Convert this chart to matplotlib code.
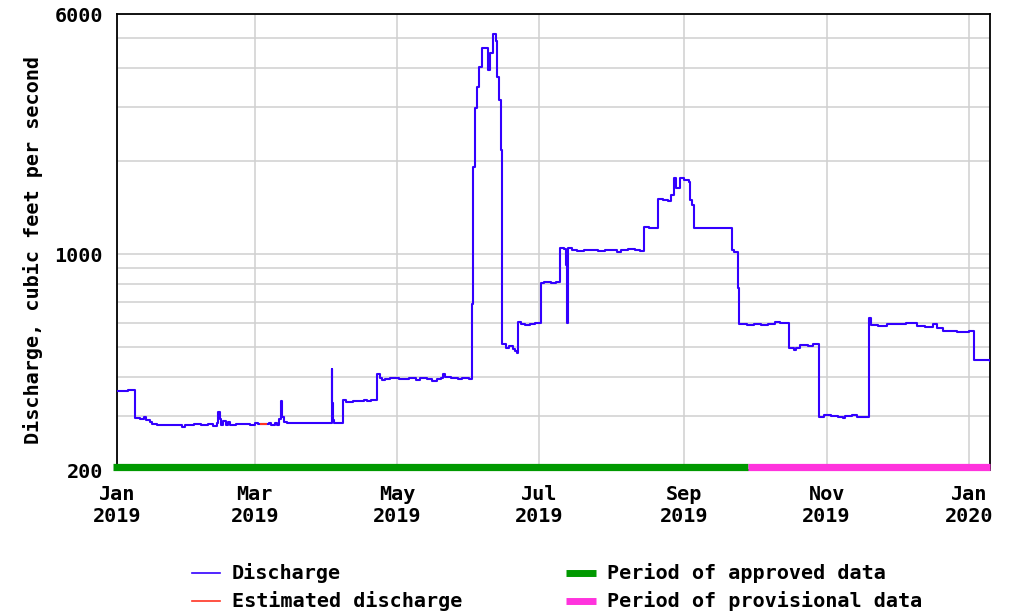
import matplotlib
matplotlib.use("Agg")
from matplotlib import pyplot as plt
from matplotlib.lines import Line2D
from matplotlib.ticker import FixedLocator, NullFormatter
import pandas as pd

plt.rcParams["font.family"] = "DejaVu Sans Mono"
plt.rcParams["font.weight"] = "bold"
plt.rcParams["font.size"] = 14.5

dates = [
    "2019-01-01 00:00", "2019-01-05 12:00", "2019-01-08 17:00", "2019-01-11 00:00",
    "2019-01-12 12:00", "2019-01-13 12:00", "2019-01-15 00:00", "2019-01-16 00:00",
    "2019-01-18 00:00", "2019-01-22 00:00", "2019-01-26 00:00", "2019-01-29 00:00",
    "2019-01-30 00:00", "2019-02-03 00:00", "2019-02-06 00:00", "2019-02-09 00:00",
    "2019-02-11 00:00", "2019-02-13 00:00", "2019-02-13 10:00", "2019-02-14 00:00",
    "2019-02-14 12:00", "2019-02-15 12:00", "2019-02-16 12:00", "2019-02-17 12:00",
    "2019-02-18 12:00", "2019-02-21 00:00", "2019-02-27 00:00", "2019-03-01 00:00",
    "2019-03-02 12:00", "2019-03-07 00:00", "2019-03-08 00:00", "2019-03-09 12:00",
    "2019-03-10 12:00", "2019-03-11 12:00", "2019-03-12 07:00", "2019-03-12 18:00",
    "2019-03-13 12:00", "2019-03-15 00:00", "2019-03-20 00:00", "2019-03-25 00:00",
    "2019-03-31 00:00", "2019-04-02 22:00", "2019-04-03 06:00", "2019-04-03 18:00",
    "2019-04-04 00:00", "2019-04-07 17:00", "2019-04-09 00:00", "2019-04-12 00:00",
    "2019-04-15 00:00", "2019-04-17 00:00", "2019-04-18 00:00", "2019-04-20 00:00",
    "2019-04-22 14:00", "2019-04-23 12:00", "2019-04-24 12:00", "2019-04-26 00:00",
    "2019-04-28 00:00", "2019-05-02 00:00", "2019-05-06 00:00", "2019-05-09 00:00",
    "2019-05-11 00:00", "2019-05-14 00:00", "2019-05-16 00:00", "2019-05-18 00:00",
    "2019-05-20 00:00", "2019-05-20 18:00", "2019-05-21 12:00", "2019-05-24 00:00",
    "2019-05-27 00:00", "2019-05-29 00:00", "2019-06-01 00:00", "2019-06-02 07:00",
    "2019-06-02 17:00", "2019-06-03 10:00", "2019-06-04 10:00", "2019-06-05 07:00",
    "2019-06-06 07:00", "2019-06-09 02:00", "2019-06-09 22:00", "2019-06-11 07:00",
    "2019-06-12 10:00", "2019-06-13 00:00", "2019-06-13 19:00", "2019-06-14 10:00",
    "2019-06-15 02:00", "2019-06-16 12:00", "2019-06-18 00:00", "2019-06-19 12:00",
    "2019-06-20 12:00", "2019-06-21 07:00", "2019-06-22 00:00", "2019-06-23 00:00",
    "2019-06-25 00:00", "2019-06-27 00:00", "2019-06-29 00:00", "2019-07-01 17:00",
    "2019-07-03 00:00", "2019-07-06 00:00", "2019-07-08 00:00", "2019-07-09 22:00",
    "2019-07-11 12:00", "2019-07-12 10:00", "2019-07-12 20:00", "2019-07-13 02:00",
    "2019-07-15 00:00", "2019-07-17 00:00", "2019-07-20 00:00", "2019-07-23 00:00",
    "2019-07-26 00:00", "2019-07-29 00:00", "2019-08-01 00:00", "2019-08-03 00:00",
    "2019-08-05 00:00", "2019-08-08 00:00", "2019-08-11 00:00", "2019-08-13 00:00",
    "2019-08-14 22:00", "2019-08-17 00:00", "2019-08-20 14:00", "2019-08-23 00:00",
    "2019-08-25 00:00", "2019-08-26 07:00", "2019-08-27 10:00", "2019-08-28 10:00",
    "2019-08-30 07:00", "2019-09-01 00:00", "2019-09-02 22:00", "2019-09-03 07:00",
    "2019-09-04 07:00", "2019-09-05 00:00", "2019-09-10 00:00", "2019-09-16 00:00",
    "2019-09-18 00:00", "2019-09-21 10:00", "2019-09-22 12:00", "2019-09-24 00:00",
    "2019-09-24 14:00", "2019-09-28 00:00", "2019-10-01 00:00", "2019-10-04 00:00",
    "2019-10-07 00:00", "2019-10-10 00:00", "2019-10-12 00:00", "2019-10-16 02:00",
    "2019-10-18 00:00", "2019-10-19 00:00", "2019-10-20 17:00", "2019-10-24 00:00",
    "2019-10-26 00:00", "2019-10-28 19:00", "2019-10-31 00:00", "2019-11-03 00:00",
    "2019-11-06 00:00", "2019-11-08 00:00", "2019-11-09 00:00", "2019-11-12 00:00",
    "2019-11-14 00:00", "2019-11-19 00:00", "2019-11-20 00:00", "2019-11-23 00:00",
    "2019-11-26 22:00", "2019-11-30 00:00", "2019-12-05 00:00", "2019-12-09 17:00",
    "2019-12-13 00:00", "2019-12-16 19:00", "2019-12-18 07:00", "2019-12-21 02:00",
    "2019-12-27 00:00", "2020-01-01 00:00", "2020-01-03 07:00", "2020-01-09 19:00",
]
discharge = [
    360, 364, 295, 292,
    296, 290, 286, 282,
    280, 279, 279, 276,
    279, 281, 280, 282,
    278, 285, 308, 292,
    279, 288, 280, 286,
    280, 281, 280, 283,
    281, 283, 279, 285,
    280, 292, 334, 298,
    287, 284, 284, 285,
    285, 424, 330, 290,
    285, 336, 333, 335,
    334, 338, 334, 336,
    410, 398, 390, 393,
    396, 395, 396, 392,
    397, 393, 389, 395,
    398, 410, 399, 396,
    393, 397, 393, 690,
    1920, 2970, 3490, 4050,
    4640, 3950, 4470, 5150,
    4900, 3760, 3160, 2180,
    510, 498, 503, 494,
    486, 478, 604, 593,
    588, 593, 600, 805,
    812, 808, 812, 1045,
    1040, 920, 597, 1050,
    1035, 1025, 1030, 1033,
    1027, 1032, 1030, 1020,
    1030, 1036, 1030, 1022,
    1222, 1218, 1510, 1500,
    1490, 1560, 1760, 1635,
    1765, 1745, 1720, 1500,
    1440, 1218, 1215, 1212,
    1218, 1030, 1020, 775,
    594, 590, 593, 590,
    596, 602, 597, 496,
    490, 498, 508, 505,
    510, 298, 302, 300,
    298, 295, 299, 302,
    297, 620, 590, 586,
    595, 593, 597, 585,
    580, 594, 575, 562,
    560, 563, 454, 452,
]

est_dates = ["2019-03-03 17:00", "2019-03-05 17:00"]
est_discharge = [281, 281]

approved_period = ["2018-12-30 08:00", "2019-09-28 12:00"]
provisional_period = ["2019-09-28 12:00", "2020-01-09 19:00"]

month_ticks = ["2019-01-01", "2019-03-01", "2019-05-01", "2019-07-01",
               "2019-09-01", "2019-11-01", "2020-01-01"]
month_labels = ["Jan\n2019", "Mar\n2019", "May\n2019", "Jul\n2019",
                "Sep\n2019", "Nov\n2019", "Jan\n2020"]

blue = "#3300ff"
red = "#ff3322"
green = "#009900"
pink = "#ff33dd"
grid_col = "#d0d0d0"

fig = plt.figure(figsize=(10.15, 6.14), dpi=100)
ax = fig.add_axes([117 / 1015, 1 - 470 / 614, (989.5 - 117) / 1015, 456 / 614])

x = pd.to_datetime(dates)
ax.plot(x, discharge, color=blue, lw=1.5, drawstyle="steps-post", zorder=3)
ax.plot(pd.to_datetime(est_dates), est_discharge, color=red, lw=1.5, zorder=4)

# approval status bars along the bottom
trans = ax.get_xaxis_transform()
ax.plot(pd.to_datetime(approved_period), [0.0065, 0.0065], color=green, lw=5.2,
        solid_capstyle="butt", transform=trans, clip_on=False, zorder=5)
ax.plot(pd.to_datetime(provisional_period), [0.0065, 0.0065], color=pink, lw=5.2,
        solid_capstyle="butt", transform=trans, clip_on=False, zorder=5)

ax.set_yscale("log")
ax.set_ylim(200, 6000)
ax.set_yticks([200, 1000, 6000])
ax.set_yticklabels(["200", "1000", "6000"])
ax.yaxis.set_minor_locator(FixedLocator([300, 400, 500, 600, 700, 800, 900,
                                         2000, 3000, 4000, 5000]))
ax.yaxis.set_minor_formatter(NullFormatter())

ax.set_xlim(pd.Timestamp("2019-01-01"), pd.Timestamp("2020-01-09 19:00"))
ax.set_xticks(pd.to_datetime(month_ticks))
ax.set_xticklabels(month_labels, linespacing=1.15)

ax.grid(True, which="both", axis="y", color=grid_col, lw=1.1)
ax.grid(True, which="major", axis="x", color=grid_col, lw=1.1)
ax.set_axisbelow(True)

ax.tick_params(axis="both", which="both", length=0)
ax.tick_params(axis="x", pad=11)
ax.tick_params(axis="y", pad=10)
for s in ax.spines.values():
    s.set_linewidth(1.3)
    s.set_color("black")
ax.spines["bottom"].set_color("#333333")

fig.text(33 / 1015, 1 - 250 / 614, "Discharge, cubic feet per second",
         rotation=90, ha="center", va="center")

# legend, drawn by hand in two columns
def fy(py):
    return 1 - py / 614

fig.add_artist(Line2D([192 / 1015, 220 / 1015], [fy(573), fy(573)], color=blue, lw=1.2))
fig.add_artist(Line2D([192 / 1015, 220 / 1015], [fy(601), fy(601)], color=red, lw=1.2))
fig.add_artist(Line2D([566 / 1015, 596 / 1015], [fy(573), fy(573)], color=green, lw=5,
                      solid_capstyle="butt"))
fig.add_artist(Line2D([566 / 1015, 596 / 1015], [fy(601), fy(601)], color=pink, lw=5,
                      solid_capstyle="butt"))
fig.text(232 / 1015, fy(573), "Discharge", va="center")
fig.text(232 / 1015, fy(601), "Estimated discharge", va="center")
fig.text(607 / 1015, fy(573), "Period of approved data", va="center")
fig.text(607 / 1015, fy(601), "Period of provisional data", va="center")

fig.savefig("out.png", dpi=100)
